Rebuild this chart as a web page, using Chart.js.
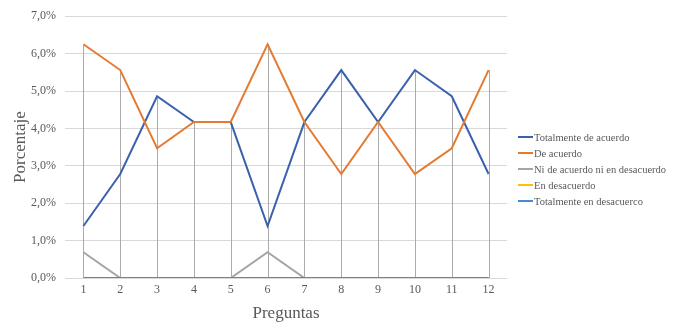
<!DOCTYPE html>
<html>
<head>
<meta charset="utf-8">
<script src="https://cdn.jsdelivr.net/npm/chart.js@4/dist/chart.umd.min.js"></script>
<style>
  html, body { margin: 0; padding: 0; background: #fff; }
  #wrap { width: 682px; height: 330px; }
</style>
</head>
<body>
<div id="wrap"><canvas id="grafico" width="682" height="330"></canvas></div>
<script>
// preguntas 1..12, porcentajes (n = 144)
const preguntas = ['1', '2', '3', '4', '5', '6', '7', '8', '9', '10', '11', '12']
const totalmenteDeAcuerdo = [1.39, 2.78, 4.86, 4.17, 4.17, 1.39, 4.17, 5.56, 4.17, 5.56, 4.86, 2.78]
const deAcuerdo = [6.25, 5.56, 3.47, 4.17, 4.17, 6.25, 4.17, 2.78, 4.17, 2.78, 3.47, 5.56]
const niDeAcuerdo = [0.69, 0, 0, 0, 0, 0.69, 0, 0, 0, 0, 0, 0]
const enDesacuerdo = [0, 0, 0, 0, 0, 0, 0, 0, 0, 0, 0, 0]
const totalmenteEnDesacuerdo = [0, 0, 0, 0, 0, 0, 0, 0, 0, 0, 0, 0]
const etiquetas = ['Totalmente de acuerdo', 'De acuerdo', 'Ni de acuerdo ni en desacuerdo', 'En desacuerdo', 'Totalmente en desacuerco']
const colores = ['#3A62AC', '#E57B33', '#A5A5A5', '#FFC000', '#4A8AD0']

const serif = '"Liberation Serif", serif'

const serie = (i, data, order, w) => ({
  label: etiquetas[i],
  data: data,
  borderColor: colores[i],
  backgroundColor: colores[i],
  borderWidth: w || 2,
  pointRadius: 0,
  tension: 0,
  order: order
})

// lineas verticales (max de cada pregunta hasta 0)
const lineasCaida = {
  id: 'lineasCaida',
  beforeDatasetsDraw(chart) {
    const { ctx, scales: { x, y } } = chart
    ctx.save()
    ctx.strokeStyle = '#ABABAB'
    ctx.lineWidth = 1
    preguntas.forEach((p, i) => {
      let max = 0
      chart.data.datasets.forEach(ds => { if (ds.data[i] > max) max = ds.data[i] })
      const px = Math.round(x.getPixelForValue(i)) + 0.5
      ctx.beginPath()
      ctx.moveTo(px, y.getPixelForValue(max))
      ctx.lineTo(px, y.getPixelForValue(0))
      ctx.stroke()
    })
    ctx.restore()
  }
}

// leyenda a la derecha
const leyenda = {
  id: 'leyenda',
  afterDraw(chart) {
    const ctx = chart.ctx
    ctx.save()
    ctx.font = '10.5px ' + serif
    ctx.fillStyle = '#595959'
    ctx.textBaseline = 'middle'
    etiquetas.forEach((t, i) => {
      const yy = 137 + i * 16
      ctx.strokeStyle = colores[i]
      ctx.lineWidth = 2
      ctx.beginPath()
      ctx.moveTo(518, yy)
      ctx.lineTo(533, yy)
      ctx.stroke()
      ctx.fillText(t, 534, yy + 1)
    })
    ctx.restore()
  }
}

new Chart(document.getElementById('grafico'), {
  type: 'line',
  data: {
    labels: preguntas,
    datasets: [
      serie(0, totalmenteDeAcuerdo, 5),
      serie(1, deAcuerdo, 4),
      serie(2, niDeAcuerdo, 3),
      serie(3, enDesacuerdo, 2),
      serie(4, totalmenteEnDesacuerdo, 1, 2.2)
    ]
  },
  options: {
    responsive: false,
    animation: false,
    layout: { padding: { left: 10, right: 175, top: 11, bottom: 6 } },
    plugins: {
      legend: { display: false },
      tooltip: { enabled: false }
    },
    scales: {
      x: {
        offset: true,
        afterFit: s => { s.height = 46 },
        grid: { display: false, drawTicks: false },
        border: { display: false },
        ticks: { color: '#595959', font: { family: serif, size: 12 }, padding: 5 },
        title: { display: true, text: 'Preguntas', color: '#595959', font: { family: serif, size: 17 }, padding: 0 }
      },
      y: {
        min: 0,
        max: 7,
        afterFit: s => { s.width = 55 },
        ticks: {
          stepSize: 1,
          color: '#595959',
          font: { family: serif, size: 12 },
          padding: 9,
          callback: v => v.toFixed(1).replace('.', ',') + '%'
        },
        grid: { color: '#D9D9D9', drawTicks: false },
        border: { display: false },
        title: { display: true, text: 'Porcentaje', color: '#595959', font: { family: serif, size: 17 }, padding: 0 }
      }
    }
  },
  plugins: [lineasCaida, leyenda]
})
</script>
</body>
</html>
